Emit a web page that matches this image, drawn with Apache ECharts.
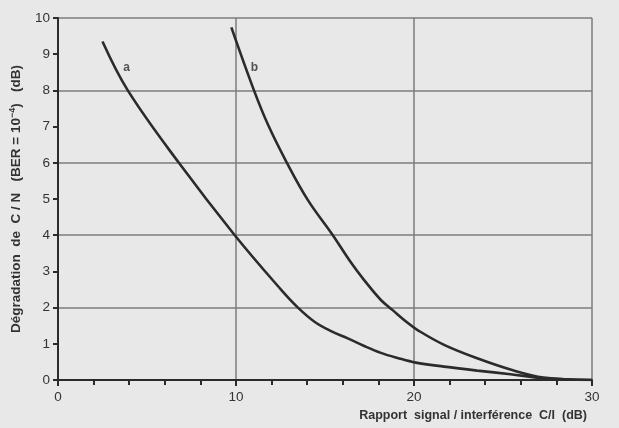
<!DOCTYPE html>
<html>
<head>
<meta charset="utf-8">
<script src="https://cdn.jsdelivr.net/npm/echarts@6/dist/echarts.min.js"></script>
<style>
  html, body { margin: 0; padding: 0; background: #e8e8e8; }
  #chart { width: 619px; height: 428px; }
</style>
</head>
<body>
<div id="chart"></div>
<script>
// C/I (dB) vs C/N degradation (dB), curve a
const curveA = [
  [2.5, 9.35], [3.92, 8.0], [6.79, 6.0], [9.93, 4.0], [12.54, 2.49],
  [13.48, 2.0], [14.41, 1.61], [15.34, 1.35], [16.28, 1.15], [17.2, 0.94],
  [18.14, 0.75], [19.07, 0.61], [20.1, 0.48], [21.69, 0.37], [23.55, 0.26],
  [25.42, 0.16], [27.28, 0.05], [30.0, 0.0]
];
// curve b
const curveB = [
  [9.74, 9.74], [11.01, 8.0], [11.8, 7.05], [12.86, 6.0], [14.04, 4.97],
  [15.44, 4.0], [16.37, 3.31], [17.2, 2.76], [18.14, 2.21], [18.8, 1.93],
  [19.64, 1.58], [20.2, 1.38], [21.69, 0.97], [23.55, 0.6], [25.42, 0.29],
  [27.28, 0.07], [30.0, 0.0]
];
// curve name labels: [x, y, text]
const curveLabels = [[3.86, 8.62, 'a'], [11.03, 8.62, 'b']];

const xTitle = 'Rapport  signal / interférence  C/I  (dB)';
const yTitle = 'Dégradation  de  C / N   (BER = 10{sup|−4})   (dB)';

const ink = '#2b2b2b';
const font = 'Liberation Sans, Arial, sans-serif';

const chart = echarts.init(document.getElementById('chart'), null, { renderer: 'canvas' });

function curve(data) {
  return {
    type: 'line',
    data: data,
    smooth: 0.38,
    showSymbol: false,
    lineStyle: { color: ink, width: 2.6 },
    z: 5
  };
}

chart.setOption({
  backgroundColor: '#e8e8e8',
  animation: false,
  title: {
    text: xTitle,
    right: 27,
    top: 404,
    textStyle: { color: '#333', fontFamily: font, fontSize: 12.5, fontWeight: 'bold' }
  },
  grid: { left: 56, right: 27, top: 18, bottom: 48 },
  xAxis: {
    type: 'value', min: 0, max: 30, interval: 10,
    axisLine: { show: true, lineStyle: { color: ink, width: 2 } },
    axisTick: { show: true, length: 6, lineStyle: { color: ink, width: 2 } },
    minorTick: { show: true, splitNumber: 5, length: 5, lineStyle: { color: ink, width: 2 } },
    axisLabel: { color: '#333', fontFamily: font, fontSize: 13.5, margin: 10 },
    splitLine: { show: true, lineStyle: { color: '#7d7d7d', width: 1.5 } }
  },
  yAxis: [
    {
      type: 'value', min: 0, max: 10, interval: 1,
      name: yTitle, nameLocation: 'middle', nameGap: 34, nameRotate: 90,
      nameTextStyle: {
        color: '#333', fontFamily: font, fontSize: 13.5, fontWeight: 'bold',
        rich: { sup: { color: '#333', fontFamily: font, fontSize: 9, fontWeight: 'bold', verticalAlign: 'top', lineHeight: 16 } }
      },
      axisLine: { show: true, lineStyle: { color: ink, width: 2 } },
      axisTick: { show: true, length: 5, lineStyle: { color: ink, width: 2 } },
      axisLabel: { color: '#333', fontFamily: font, fontSize: 13.5, margin: 8 },
      splitLine: { show: false }
    },
    {
      type: 'value', min: 0, max: 10, interval: 2, position: 'left',
      axisLine: { show: false }, axisTick: { show: false }, axisLabel: { show: false },
      splitLine: { show: true, lineStyle: { color: '#7d7d7d', width: 1.5 } }
    }
  ],
  series: [
    curve(curveA),
    curve(curveB),
    {
      type: 'scatter',
      data: curveLabels,
      symbolSize: 0,
      label: {
        show: true, position: 'inside',
        formatter: p => p.value[2],
        color: ink, fontFamily: font, fontSize: 12, fontWeight: 'bold'
      },
      z: 6
    }
  ]
});
</script>
</body>
</html>
